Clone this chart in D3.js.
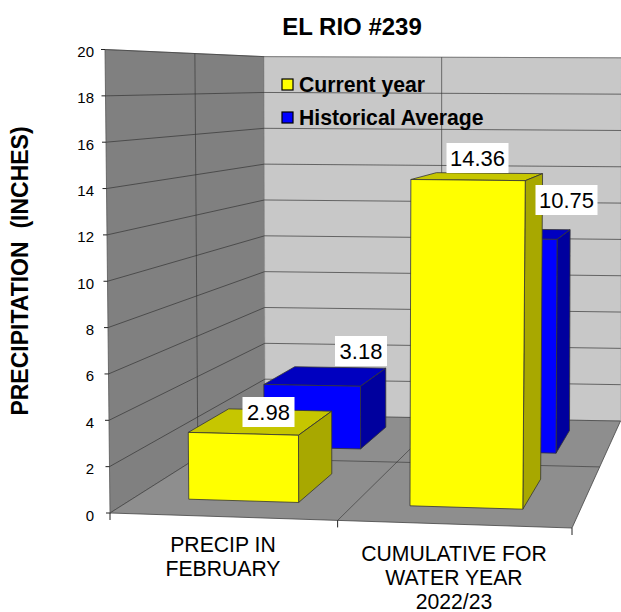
<!DOCTYPE html>
<html><head><meta charset="utf-8">
<script src="https://cdn.jsdelivr.net/npm/d3@7"></script>
<style>html,body{margin:0;padding:0;background:#fff}svg{display:block}text{font-family:"Liberation Sans",Arial,sans-serif;fill:#000}</style>
</head><body><svg id="c" width="621" height="612"></svg>
<script>
const categories = ["PRECIP IN|FEBRUARY", "CUMULATIVE FOR|WATER YEAR|2022/23"];
const seriesNames = ["Current year", "Historical Average"];
const currentYear = [2.98, 14.36];
const historicalAverage = [3.18, 10.75];
const valueTicks = [0, 2, 4, 6, 8, 10, 12, 14, 16, 18, 20];
const title = "EL RIO #239";
const yTitle = "PRECIPITATION  (INCHES)";

const colors = {
  yellow: {front: "#ffff00", top: "#c6c600", side: "#a8a800"},
  blue: {front: "#0000ff", top: "#0000c0", side: "#00009e"}
};

// scales: category -> u, series -> depth, value -> height fraction
const uBand = d3.scaleBand().domain(d3.range(categories.length)).range([0, 1]).paddingInner(0.5).paddingOuter(0.25);
const dBand = d3.scaleBand().domain(d3.range(seriesNames.length)).range([0, 1]).paddingInner(0.5).paddingOuter(0.25);
const vScale = d3.scaleLinear().domain([0, 20]).range([0, 1]);

// perspective plane from unit square to quad [front-left, front-right, back-right, back-left]
function plane(q) {
  const [p0, p1, p2, p3] = q;
  const dx1 = p1[0] - p2[0], dx2 = p3[0] - p2[0], sx = p0[0] - p1[0] + p2[0] - p3[0];
  const dy1 = p1[1] - p2[1], dy2 = p3[1] - p2[1], sy = p0[1] - p1[1] + p2[1] - p3[1];
  const den = dx1 * dy2 - dx2 * dy1;
  const g = (sx * dy2 - dx2 * sy) / den, h = (dx1 * sy - sx * dy1) / den;
  const a = p1[0] - p0[0] + g * p1[0], b = p3[0] - p0[0] + h * p3[0], c = p0[0];
  const d = p1[1] - p0[1] + g * p1[1], e = p3[1] - p0[1] + h * p3[1], f = p0[1];
  return (u, w) => { const k = g * u + h * w + 1; return [(a * u + b * w + c) / k, (d * u + e * w + f) / k, k]; };
}
const floorP = plane([[110, 513], [572, 528], [620.5, 421], [265, 415]]);
function P(u0, w, val) {
  const u = u0 + 0.04 * u0 * (1 - u0);                         // slight easing of the width axis
  const t = vScale(val), a = floorP(u, w);
  const full = (463.5 - 18 * u + 5.5 * w) / a[2];              // height of the full axis here
  const lean = (-5 + 10 * u) * (1 - w) + (-1 + 2 * u) * w;     // verticals lean slightly outwards
  return [a[0] + lean * t, a[1] - full * t];
}
const path = pts => "M" + pts.map(p => p.join(",")).join("L") + "Z";
const lineP = pts => "M" + pts.map(p => p.join(",")).join("L");

const svg = d3.select("#c");
// walls and floor
svg.append("path").attr("d", path([P(0,0,0),P(0,1,0),P(0,1,20),P(0,0,20)])).attr("fill", "#808080").attr("stroke", "#555").attr("stroke-width", .8);
svg.append("path").attr("d", path([P(0,1,0),P(1,1,0),P(1,1,20),P(0,1,20)])).attr("fill", "#c8c8c8").attr("stroke", "#999").attr("stroke-width", .6);
svg.append("path").attr("d", path([P(0,0,0),P(1,0,0),P(1,1,0),P(0,1,0)])).attr("fill", "#8e8e8e").attr("stroke", "#444").attr("stroke-width", .8);

// gridlines
const grid = svg.append("g").attr("fill", "none").attr("stroke", "#333").attr("stroke-width", .8);
valueTicks.slice(1).forEach(v => {
  grid.append("path").attr("d", lineP([P(0,0,v),P(0,1,v),P(1,1,v)])).attr("stroke-opacity", v === 20 ? .6 : .85);
});
grid.append("path").attr("d", lineP([P(0,.5,0),P(0,.5,20)])).attr("stroke-opacity", .8);
grid.append("path").attr("d", lineP([P(.5,1,0),P(.5,1,20)])).attr("stroke-opacity", .8);
grid.append("path").attr("d", lineP([P(0,.5,0),P(1,.5,0)])).attr("stroke-opacity", .75);
grid.append("path").attr("d", lineP([P(.5,0,0),P(.5,1,0)])).attr("stroke-opacity", .75);

// axis ticks and labels
const axis = svg.append("g");
valueTicks.forEach(v => {
  const p = P(0,0,v);
  axis.append("line").attr("x1", p[0]-4).attr("x2", p[0]).attr("y1", p[1]).attr("y2", p[1]).attr("stroke", "#222");
  axis.append("text").attr("x", 94).attr("y", p[1]+7.5).attr("text-anchor", "end").attr("font-size", 15).text(v);
});
d3.range(categories.length + 1).forEach(i => {
  const p = P(i / categories.length, 0, 0);
  axis.append("line").attr("x1", p[0]).attr("x2", p[0]).attr("y1", p[1]).attr("y2", p[1]+7).attr("stroke", "#222");
});

function bar(i, s, val, col) {
  const u0 = uBand(i), u1 = u0 + uBand.bandwidth(), d0 = dBand(s), d1 = d0 + dBand.bandwidth();
  const g = svg.append("g").attr("stroke", "#333").attr("stroke-width", .8).attr("stroke-linejoin", "round");
  g.append("path").attr("d", path([P(u0,d0,val),P(u1,d0,val),P(u1,d1,val),P(u0,d1,val)])).attr("fill", col.top);
  g.append("path").attr("d", path([P(u1,d0,0),P(u1,d1,0),P(u1,d1,val),P(u1,d0,val)])).attr("fill", col.side);
  g.append("path").attr("d", path([P(u0,d0,0),P(u1,d0,0),P(u1,d0,val),P(u0,d0,val)])).attr("fill", col.front);
}
// back row first
historicalAverage.forEach((v, i) => bar(i, 1, v, colors.blue));
currentYear.forEach((v, i) => bar(i, 0, v, colors.yellow));

// value labels
const labelCenters = [[361, 351], [268.5, 412], [477.5, 158], [566.5, 200]];
[historicalAverage[0], currentYear[0], currentYear[1], historicalAverage[1]].forEach((v, i) => {
  const [cx, cy] = labelCenters[i], s = v.toFixed(2), w = s.length === 5 ? 62 : 52;
  svg.append("rect").attr("x", cx - w/2).attr("y", cy - 15).attr("width", w).attr("height", 30).attr("fill", "#fff");
  svg.append("text").attr("x", cx).attr("y", cy + 8).attr("text-anchor", "middle").attr("font-size", 22).text(s);
});

// legend
const legendPos = [[282, 79], [282, 112]];
seriesNames.forEach((n, i) => {
  const [x, y] = legendPos[i];
  svg.append("rect").attr("x", x).attr("y", y).attr("width", 11).attr("height", 11).attr("fill", i ? colors.blue.front : colors.yellow.front).attr("stroke", "#000").attr("stroke-width", 1.2);
  svg.append("text").attr("x", x+17).attr("y", y+13).attr("font-size", 21.2).attr("font-weight", 700).text(n);
});

// titles
svg.append("text").attr("x", 352).attr("y", 35).attr("text-anchor", "middle").attr("font-size", 24).attr("font-weight", 700).text(title);
svg.append("text").attr("transform", "translate(27.5,271) rotate(-90)").attr("text-anchor", "middle").attr("font-size", 23).attr("font-weight", 700).style("white-space", "pre").text(yTitle);

// category labels
const catCenters = [223, 454], catTops = [552, 561];
categories.forEach((c, i) => {
  c.split("|").forEach((t, k) => {
    svg.append("text").attr("x", catCenters[i]).attr("y", catTops[i] + k * 24).attr("text-anchor", "middle").attr("font-size", 21.2).text(t);
  });
});
</script></body></html>
